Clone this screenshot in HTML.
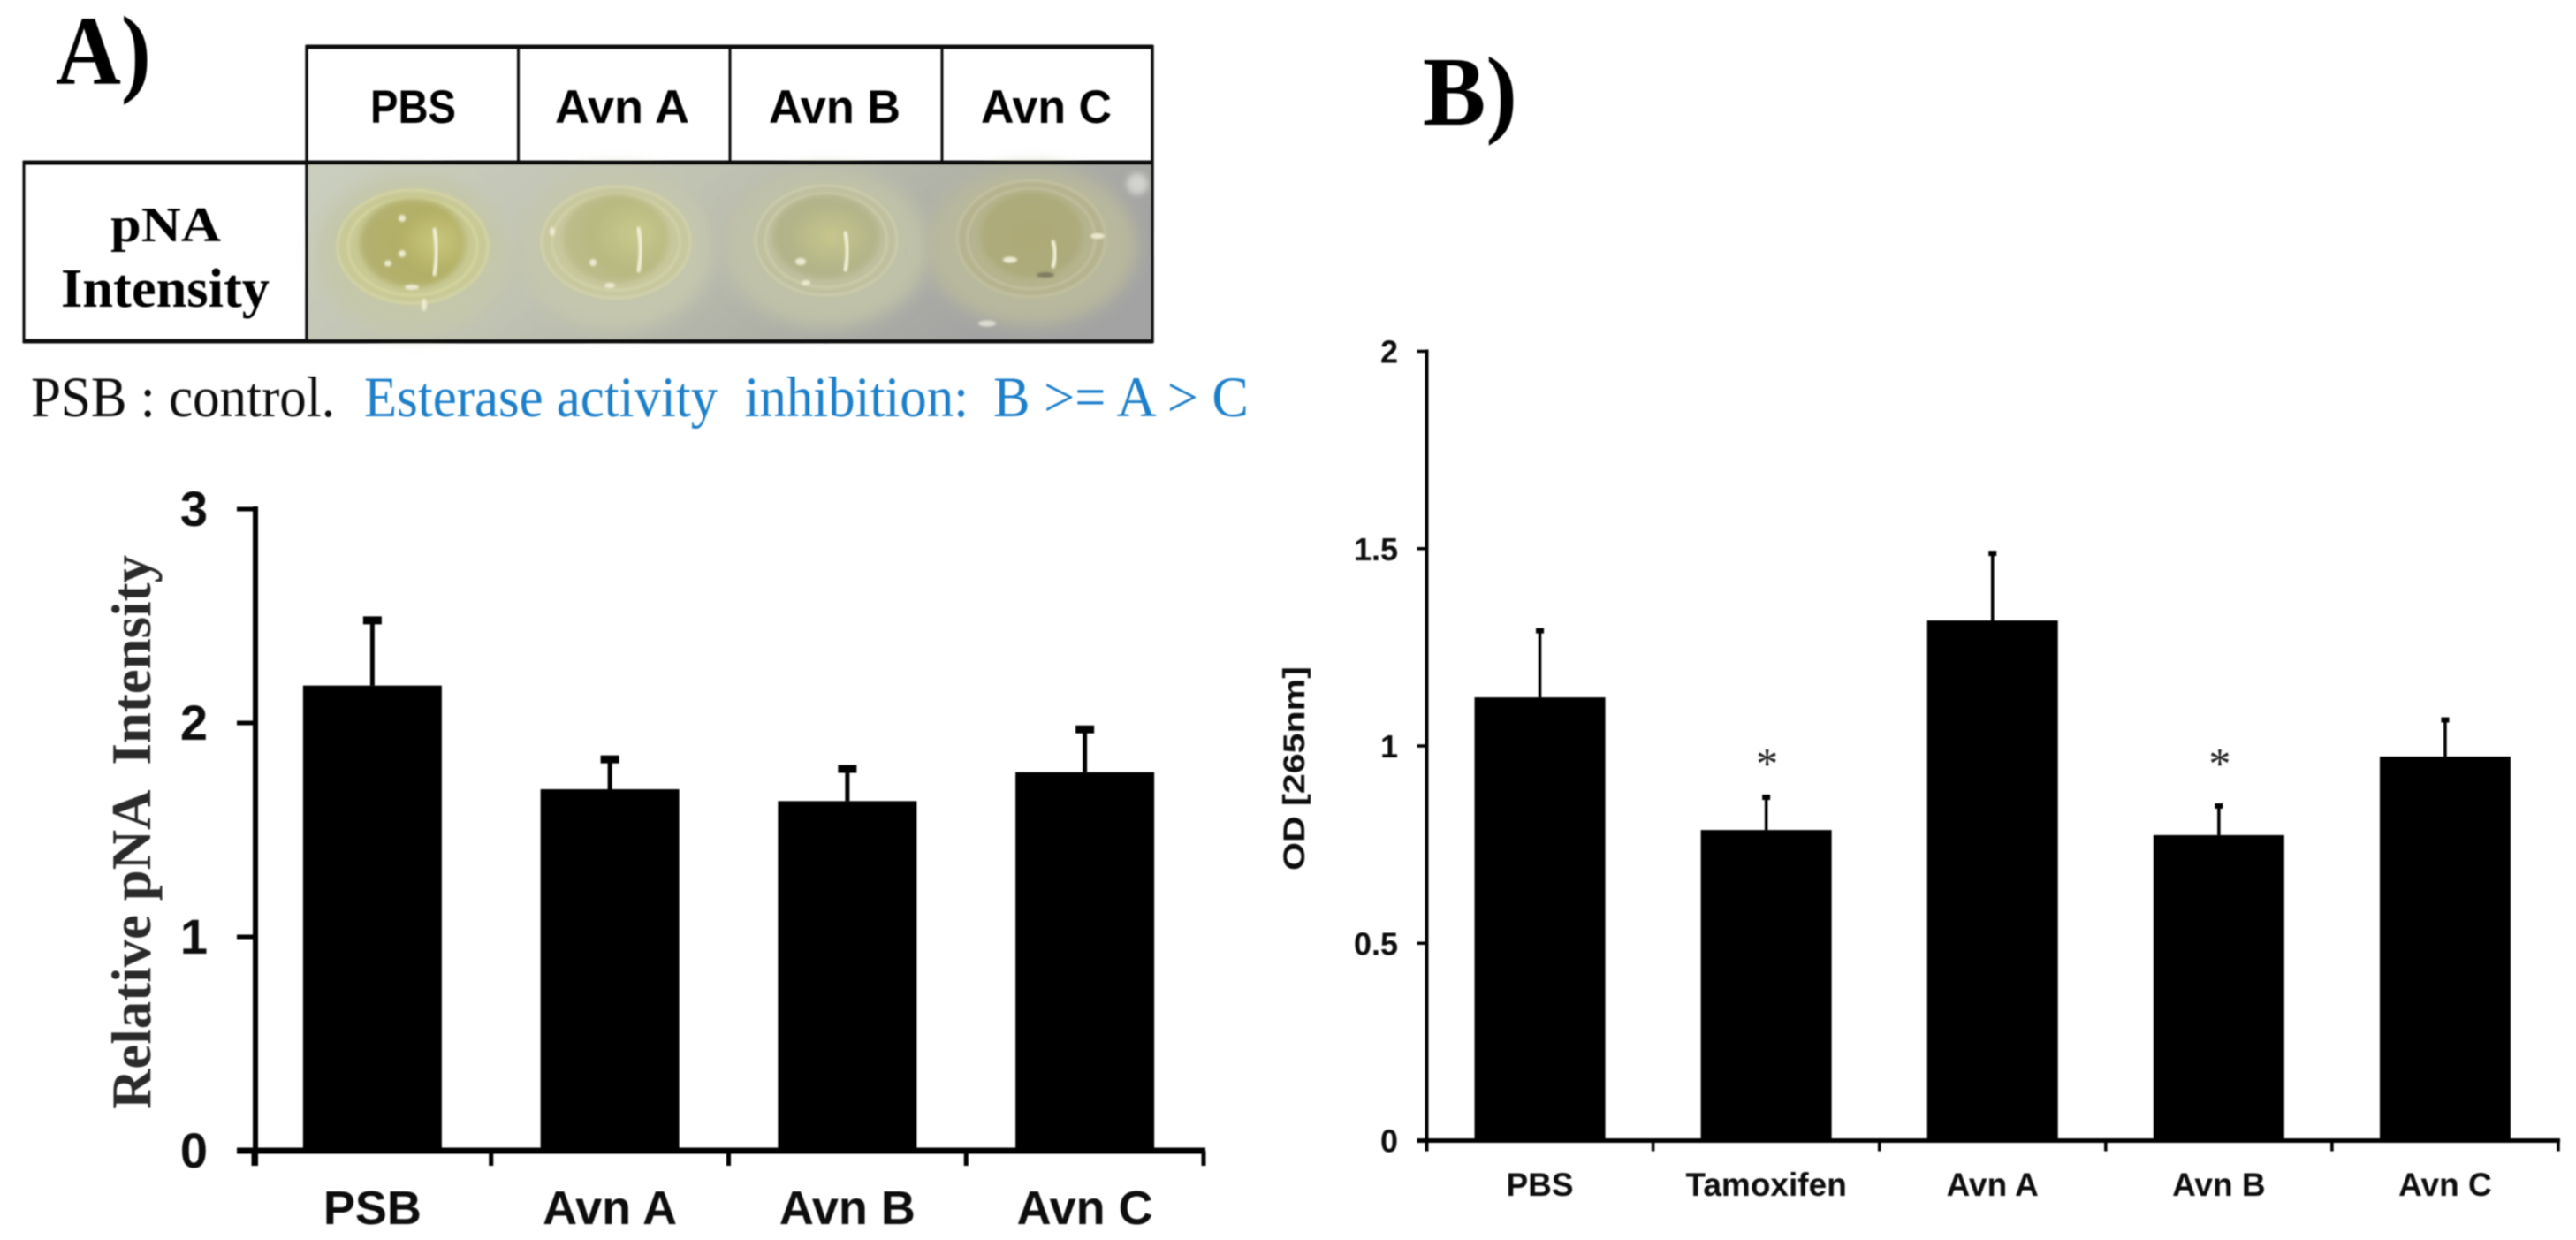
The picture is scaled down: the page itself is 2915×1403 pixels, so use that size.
<!DOCTYPE html>
<html lang="en">
<head>
<meta charset="utf-8">
<title>Esterase activity inhibition figure</title>
<style>
html,body{margin:0;padding:0;background:#fff;}
body{width:2915px;height:1403px;overflow:hidden;}
svg{display:block;}
.sans{font-family:"Liberation Sans",Arial,sans-serif;font-weight:700;}
.serif{font-family:"Liberation Serif","Times New Roman",serif;}
.pre{white-space:pre;}
</style>
</head>
<body>
<svg id="fig" xmlns="http://www.w3.org/2000/svg" width="2915" height="1403" viewBox="0 0 2915 1403">
<defs>
<filter id="soft" x="-5%" y="-5%" width="110%" height="110%"><feGaussianBlur stdDeviation="0.9"/></filter>
<filter id="b3" x="-20%" y="-20%" width="140%" height="140%"><feGaussianBlur stdDeviation="3.5"/></filter>
<filter id="b1" x="-50%" y="-50%" width="200%" height="200%"><feGaussianBlur stdDeviation="1.1"/></filter>
<filter id="b8" x="-30%" y="-30%" width="160%" height="160%"><feGaussianBlur stdDeviation="9"/></filter>
<linearGradient id="plate" x1="0" y1="0" x2="1" y2="0.3">
<stop offset="0" stop-color="#cbcfbf"/><stop offset="0.45" stop-color="#c0c2b2"/><stop offset="0.75" stop-color="#afb1a7"/><stop offset="1" stop-color="#a3a3a3"/>
</linearGradient>
<radialGradient id="w1" cx="0.72" cy="0.48" r="0.8"><stop offset="0" stop-color="#c9c77c"/><stop offset="0.45" stop-color="#b2af66"/><stop offset="1" stop-color="#b3b174"/></radialGradient>
<radialGradient id="w2" cx="0.68" cy="0.45" r="0.8"><stop offset="0" stop-color="#c8c98c"/><stop offset="0.5" stop-color="#b8b981"/><stop offset="1" stop-color="#bdbd90"/></radialGradient>
<radialGradient id="w3" cx="0.55" cy="0.5" r="0.7"><stop offset="0" stop-color="#c6c68c"/><stop offset="0.55" stop-color="#b3b589"/><stop offset="1" stop-color="#adaf88"/></radialGradient>
<radialGradient id="w4" cx="0.5" cy="0.5" r="0.7"><stop offset="0" stop-color="#acaa76"/><stop offset="0.7" stop-color="#adab7c"/><stop offset="1" stop-color="#b0ae88"/></radialGradient>
</defs>
<g id="root" filter="url(#soft)">
<text class="serif" font-weight="700" font-size="111" x="63" y="95" textLength="108" lengthAdjust="spacingAndGlyphs">A)</text>
<text class="serif" font-weight="700" font-size="111" x="1610" y="141" textLength="107" lengthAdjust="spacingAndGlyphs">B)</text>

<g>
<rect x="347" y="185" width="957" height="200" fill="url(#plate)"/>
<g id="wells"></g>
</g>

<g stroke="#111" fill="none">
<line x1="346" y1="53" x2="1305" y2="53" stroke-width="5"/>
<line x1="26" y1="184" x2="1305" y2="184" stroke-width="5"/>
<line x1="26" y1="386" x2="1305" y2="386" stroke-width="5"/>
<line x1="347" y1="51" x2="347" y2="388" stroke-width="3.5"/>
<line x1="586.5" y1="51" x2="586.5" y2="186" stroke-width="3"/>
<line x1="826" y1="51" x2="826" y2="186" stroke-width="3"/>
<line x1="1066" y1="51" x2="1066" y2="186" stroke-width="3"/>
<line x1="1304" y1="51" x2="1304" y2="388" stroke-width="3.5"/>
<line x1="27" y1="182" x2="27" y2="388" stroke-width="3"/>
</g>
<g class="sans" font-size="53" text-anchor="start" fill="#000">
<text x="419" y="139" textLength="97" lengthAdjust="spacingAndGlyphs">PBS</text>
<text x="628" y="139" textLength="152" lengthAdjust="spacingAndGlyphs">Avn A</text>
<text x="870" y="139" textLength="149" lengthAdjust="spacingAndGlyphs">Avn B</text>
<text x="1110" y="139" textLength="148" lengthAdjust="spacingAndGlyphs">Avn C</text>
</g>
<g class="serif" font-weight="700" fill="#000">
<text font-size="56" x="125" y="273" textLength="125" lengthAdjust="spacingAndGlyphs">pNA</text>
<text font-size="62" x="69" y="347" textLength="236" lengthAdjust="spacingAndGlyphs">Intensity</text>
</g>
<g class="serif" font-size="65">
<text x="35" y="471" fill="#111" textLength="344" lengthAdjust="spacingAndGlyphs">PSB : control.</text>
<text class="pre" x="412" y="471" fill="#1f7fc9" textLength="684" lengthAdjust="spacingAndGlyphs">Esterase activity  inhibition:</text>
<text x="1124" y="471" fill="#1f7fc9" textLength="289" lengthAdjust="spacingAndGlyphs">B &gt;= A &gt; C</text>
</g>

<g id="chartA"></g>
<text class="serif pre" font-weight="700" font-size="63" fill="#2a2a2a" transform="translate(170,1255) rotate(-90)" textLength="627" lengthAdjust="spacingAndGlyphs">Relative pNA  Intensity</text>

<g id="chartB"></g>
<text class="sans" font-size="34" fill="#111" transform="translate(1476,985) rotate(-90)" textLength="231" lengthAdjust="spacingAndGlyphs">OD [265nm]</text>
</g>
</svg>
<script>
// Chart A data
const aCategories = ['PSB', 'Avn A', 'Avn B', 'Avn C'];
const aValues = [2.175, 1.69, 1.635, 1.77];
const aErrors = [0.305, 0.14, 0.15, 0.20];
const aTicks = [0, 1, 2, 3];
const aTickLabels = ['0', '1', '2', '3'];

// Chart B data
const bCategories = ['PBS', 'Tamoxifen', 'Avn A', 'Avn B', 'Avn C'];
const bValues = [1.123, 0.787, 1.318, 0.774, 0.973];
const bErrors = [0.169, 0.083, 0.170, 0.074, 0.093];
const bStarLevels = [null, 0.965, null, 0.965, null];
const bTicks = [0, 0.5, 1, 1.5, 2];
const bTickLabels = ['0', '0.5', '1', '1.5', '2'];

const NS = 'http://www.w3.org/2000/svg';
function mk(parent, tag, attrs, txt) {
  const el = document.createElementNS(NS, tag);
  for (const k in attrs) el.setAttribute(k, attrs[k]);
  if (txt !== undefined) el.textContent = txt;
  parent.appendChild(el);
  return el;
}
function slug(s) { return s.toLowerCase().replace(/[^a-z0-9]+/g, '-'); }

function drawChart(root, cfg, cats, vals, errs, ticks, labels, stars) {
  const y = v => cfg.y0 - (v - cfg.vMin) * (cfg.y0 - cfg.yTop) / (cfg.vMax - cfg.vMin);
  const step = (cfg.xRight - cfg.xLeft) / cats.length;
  const x = i => cfg.xLeft + step * (i + 0.5);

  cats.forEach((c, i) => {
    const err = mk(root, 'line', {x1: x(i), x2: x(i), y1: y(vals[i]), y2: y(vals[i] + errs[i]), stroke: '#000', 'stroke-width': cfg.errW});
    
    
    const cap = mk(root, 'line', {x1: x(i) - cfg.capW / 2, x2: x(i) + cfg.capW / 2, y1: y(vals[i] + errs[i]), y2: y(vals[i] + errs[i]), stroke: '#000', 'stroke-width': cfg.capT});
    
    
    const bar = mk(root, 'rect', {x: x(i) - cfg.barW / 2, y: y(vals[i]), width: cfg.barW, height: cfg.y0 - y(vals[i]), fill: '#000'});
    
    
    const lab = mk(root, 'text', {x: x(i), y: cfg.catY, 'text-anchor': 'middle', 'font-size': cfg.catSize, 'class': 'sans', fill: '#111'}, c);
    
    
    if (stars && stars[i] !== null) {
      const s = mk(root, 'text', {x: x(i) + 1, y: y(stars[i]) + 21, 'text-anchor': 'middle', 'font-size': 50, 'class': 'serif', fill: '#222'}, '*');
      
      
    }
  });

  const yAxis = mk(root, 'line', {x1: cfg.xLeft + cfg.axisShift, x2: cfg.xLeft + cfg.axisShift, y1: cfg.yTop - cfg.yW / 2, y2: cfg.y0 + cfg.tickLen, stroke: '#000', 'stroke-width': cfg.yW});
  
  
  const xAxis = mk(root, 'line', {x1: cfg.xLeft - cfg.tickLeft, x2: cfg.xRight + 2, y1: cfg.y0, y2: cfg.y0, stroke: '#000', 'stroke-width': cfg.xW});
  
  

  for (let i = 0; i <= cats.length; i++) {
    const px = cfg.xLeft + step * i;
    const t = mk(root, 'line', {x1: px, x2: px, y1: cfg.y0, y2: cfg.y0 + cfg.tickLen, stroke: '#000', 'stroke-width': cfg.tickW});
    
    
  }
  ticks.forEach((v, i) => {
    const t = mk(root, 'line', {x1: cfg.xLeft - cfg.tickLeft, x2: cfg.xLeft + cfg.axisShift, y1: y(v), y2: y(v), stroke: '#000', 'stroke-width': cfg.tickW});
    
    
    const l = mk(root, 'text', {x: cfg.yLabelX, y: y(v) + cfg.yLabelDy, 'text-anchor': 'end', 'font-size': cfg.yLabelSize, 'class': 'sans', fill: '#111'}, labels[i]);
    
    
  });
}

drawChart(document.getElementById('chartA'), {
  xLeft: 287, xRight: 1362, y0: 1302, yTop: 576, vMin: 0, vMax: 3,
  barW: 157, errW: 5, capW: 21, capT: 9, axisShift: 2, yW: 6, xW: 7, tickW: 5,
  tickLen: 17, tickLeft: 19, catY: 1385, catSize: 54,
  yLabelX: 235, yLabelDy: 19, yLabelSize: 56
}, aCategories, aValues, aErrors, aTicks, aTickLabels, null);

drawChart(document.getElementById('chartB'), {
  xLeft: 1614.5, xRight: 2895, y0: 1290.5, yTop: 397.5, vMin: 0, vMax: 2,
  barW: 148, errW: 3.5, capW: 9, capT: 6, axisShift: 0, yW: 4, xW: 5, tickW: 3.5,
  tickLen: 12, tickLeft: 11, catY: 1353, catSize: 37,
  yLabelX: 1582, yLabelDy: 13, yLabelSize: 36
}, bCategories, bValues, bErrors, bTicks, bTickLabels, bStarLevels);

// Photographic wells of the plate (decorative illustration, not chart data)
(function () {
  const g = document.getElementById('wells');
  const wells = [
    {cx: 467, cy: 287, hx: 110, hy: 92, rx: 85, ry: 64, ix: 60, iy: 50, g: 'w1', halo: '#c5c7ab', rim: '#c8c994', ring: '#d9d9a4', arc: [493, 258, 312], spots: [[455,247,4,4],[455,287,4,4],[439,298,4,3.5],[466,325,8,3],[480,345,3,7]]},
    {cx: 697, cy: 282, hx: 110, hy: 92, rx: 84, ry: 63, ix: 60, iy: 50, g: 'w2', halo: '#c4c6ad', rim: '#c8c89e', ring: '#d6d6ae', arc: [724, 257, 308], spots: [[671,297,4,4],[690,323,6,3],[625,262,3,5]]},
    {cx: 935, cy: 280, hx: 116, hy: 90, rx: 80, ry: 62, ix: 60, iy: 47, g: 'w3', halo: '#bfc1a8', rim: '#bfc09e', ring: '#d0d0b0', arc: [958, 262, 307], spots: [[906,296,6,4],[912,320,5,3]]},
    {cx: 1167, cy: 278, hx: 120, hy: 90, rx: 84, ry: 66, ix: 58, iy: 49, g: 'w4', halo: '#b8b89e', rim: '#b5b48e', ring: '#c6c5a4', arc: [1193, 272, 303], spots: [[1143,294,8,3.5],[1242,267,8,3]]}
  ];
  wells.forEach((w) => {
    const halo = mk(g, 'ellipse', {cx: w.cx, cy: w.cy, rx: w.hx, ry: w.hy, fill: w.halo, filter: 'url(#b8)'});
    
    
    const rim = mk(g, 'ellipse', {cx: w.cx, cy: w.cy - 8, rx: w.rx, ry: w.ry, fill: w.rim, filter: 'url(#b3)'});
    
    
    [1, 0.86].forEach(f => {
      const ring = mk(g, 'ellipse', {cx: w.cx, cy: w.cy - 8, rx: w.rx * f, ry: w.ry * f, fill: 'none', stroke: w.ring, 'stroke-width': 3, opacity: 0.7, filter: 'url(#b1)'});
      
      
    });
    const inner = mk(g, 'ellipse', {cx: w.cx, cy: w.cy - 12, rx: w.ix, ry: w.iy, fill: 'url(#' + w.g + ')', filter: 'url(#b3)'});
    
    
    const arc = mk(g, 'path', {d: 'M' + (w.arc[0] - 2) + ' ' + w.arc[1] + ' Q' + (w.arc[0] + 4) + ' ' + ((w.arc[1] + w.arc[2]) / 2) + ' ' + (w.arc[0] - 2) + ' ' + w.arc[2], fill: 'none', stroke: '#f2f0d6', 'stroke-width': 4.5, filter: 'url(#b1)'});
    
    
    w.spots.forEach(s => {
      const sp = mk(g, 'ellipse', {cx: s[0], cy: s[1], rx: s[2], ry: s[3], fill: '#eceacf', filter: 'url(#b1)'});
      
      
    });
  });
  const a = mk(g, 'ellipse', {cx: 1287, cy: 208, rx: 12, ry: 12, fill: '#d2d2ce', filter: 'url(#b3)'});
  
  
  const b = mk(g, 'ellipse', {cx: 1117, cy: 366, rx: 10, ry: 3.5, fill: '#dcdcd2', filter: 'url(#b1)'});
  
  
  const c = mk(g, 'ellipse', {cx: 1183, cy: 311, rx: 10, ry: 3, fill: '#7c7a5e', filter: 'url(#b1)'});
  
  
})();
</script>
</body>
</html>
